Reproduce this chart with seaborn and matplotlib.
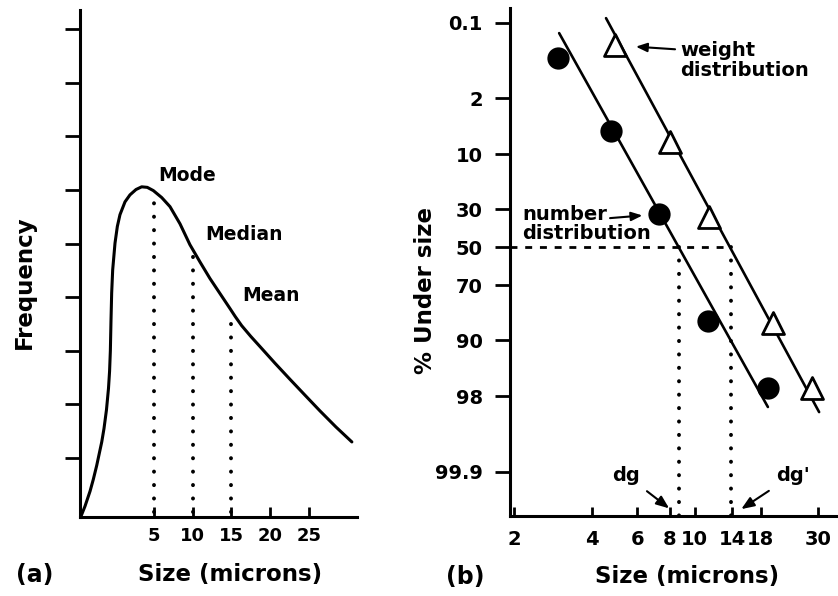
import numpy as np
import matplotlib
matplotlib.use("Agg")
import matplotlib.pyplot as plt
from matplotlib.ticker import NullLocator
import matplotlib.transforms as mtransforms
import seaborn as sns
from statistics import NormalDist

# (a) frequency curve (size in microns, frequency in arbitrary units)
curve_size = [-4.42, -3.87, -3.22, -2.80, -2.36, -1.71, -1.42, -1.10, -0.84, -0.70,
              -0.60, -0.52, -0.43, -0.30, 0.0, 0.30, 0.64, 1.29, 1.93, 2.71, 3.44,
              4.16, 4.94, 6.02, 7.09, 8.38, 9.66, 10.95, 12.24, 13.53, 14.82,
              15.5, 16.33, 17.5, 18.69, 20.62, 22.55, 24.48, 26.42, 28.48, 30.54]
curve_freq = [-0.1, 0.10, 0.38, 0.60, 0.86, 1.30, 1.55, 1.90, 2.30, 2.62,
              3.00, 3.55, 4.08, 4.51, 5.01, 5.32, 5.54, 5.78, 5.91, 6.01, 6.06,
              6.05, 5.99, 5.86, 5.69, 5.37, 4.98, 4.66, 4.35, 4.07, 3.79,
              3.64, 3.47, 3.27, 3.08, 2.77, 2.47, 2.175, 1.88, 1.58, 1.30]
stat_names = ["Mode", "Median", "Mean"]
stat_size = [5, 10, 15]
size_ticks_a = [5, 10, 15, 20, 25]
freq_ticks = [1, 2, 3, 4, 5, 6, 7, 8, 9]

# (b) log-probability plot
num_size = [2.96, 4.75, 7.28, 11.3, 19.2]
num_pct = [0.46, 5.5, 32.4, 84.5, 97.4]
wt_size = [4.92, 8.03, 11.4, 20.1, 28.4]
wt_pct = [0.27, 7.4, 33.9, 85.2, 97.4]
num_line_size = [2.99, 19.2]
num_line_pct = [0.159, 98.61]
wt_line_size = [4.54, 30.3]
wt_line_pct = [0.080, 98.84]
dg = 8.7
dg_prime = 13.8
size_ticks_b = [2, 4, 6, 8, 10, 14, 18, 30]
pct_ticks = [0.1, 2, 10, 30, 50, 70, 90, 98, 99.9]
pct_labels = ["0.1", "2", "10", "30", "50", "70", "90", "98", "99.9"]

sns.set_theme(style="ticks")
plt.rcParams["font.family"] = ["DejaVu Sans"]
plt.rcParams["font.weight"] = "bold"
plt.rcParams["text.color"] = "black"
plt.rcParams["axes.labelcolor"] = "black"
plt.rcParams["xtick.color"] = "black"
plt.rcParams["ytick.color"] = "black"
plt.rcParams["axes.edgecolor"] = "black"

nd = NormalDist()
_inv = np.vectorize(nd.inv_cdf, otypes=[float])
_cdf = np.vectorize(nd.cdf, otypes=[float])


def to_z(p):
    p = np.clip(np.asarray(p, dtype=float) / 100.0, 1e-9, 1 - 1e-9)
    return _inv(p)


def from_z(z):
    return _cdf(np.asarray(z, dtype=float)) * 100.0


fig = plt.figure(figsize=(8.38, 5.96), dpi=100)
ax1 = fig.add_axes([0.0955, 0.1326, 0.3305, 0.8507])
ax2 = fig.add_axes([0.6086, 0.1342, 0.3914, 0.8523])

# ---- panel (a)
sns.lineplot(x=curve_size, y=curve_freq, sort=False, estimator=None,
             color="black", lw=2.2, ax=ax1)
ax1.lines[0].set_solid_joinstyle("round")
tops = np.interp(stat_size, curve_size, curve_freq)
vl = ax1.vlines(stat_size, 0, tops, colors="black", lw=2.8,
                linestyles=[(0, (0.05, 3.4))])
vl.set_capstyle("round")
offsets = [(4, 15), (13, 15), (11, 15)]
for name, xs, yt, off in zip(stat_names, stat_size, tops, offsets):
    ax1.annotate(name, xy=(xs, yt), xytext=off, textcoords="offset pixels",
                 ha="left", va="center", fontsize=13.5, fontweight="bold")

ax1.set_xlim(-4.51, 31.2)
ax1.set_ylim(-0.1, 9.36)
ax1.set_xticks(size_ticks_a)
ax1.set_yticks(freq_ticks)
ax1.tick_params(axis="y", direction="out", length=10.5, width=2, labelleft=False)
ax1.tick_params(axis="x", direction="in", length=7, width=2, labelsize=13, pad=7)
ax1.set_xlabel("Size (microns)", fontsize=16.5, fontweight="bold", va="center")
ax1.xaxis.set_label_coords(0.5415, -0.114)
ax1.set_ylabel("Frequency", fontsize=16.5, fontweight="bold", va="center")
ax1.yaxis.set_label_coords(-0.202, 0.4635)

# ---- panel (b)
ax2.set_xscale("log")
ax2.set_yscale("function", functions=(to_z, from_z))
x_lo, x_hi = 1.93, 35.85
y_top, y_bot = 0.0492, 99.9893

sns.lineplot(x=num_line_size, y=num_line_pct, sort=False, estimator=None,
             color="black", lw=1.9, ax=ax2)
sns.lineplot(x=wt_line_size, y=wt_line_pct, sort=False, estimator=None,
             color="black", lw=1.9, ax=ax2)
sns.scatterplot(x=num_size, y=num_pct, marker="o", s=220, color="black",
                edgecolor="black", ax=ax2, zorder=3)
sns.scatterplot(x=wt_size, y=wt_pct, marker="^", s=250, color="white",
                edgecolor="black", linewidth=2, ax=ax2, zorder=3)

ax2.plot([x_lo, dg_prime], [50, 50], color="black", lw=2,
         ls=(0, (2.5, 2.8)))
vl2 = ax2.vlines([dg, dg_prime], 50, y_bot, colors="black", lw=2.8,
                 linestyles=[(0, (0.05, 3.4))])
vl2.set_capstyle("round")

arrow = dict(arrowstyle="-|>,head_length=0.55,head_width=0.22", color="black",
             lw=1.5, shrinkA=0)
ax2.annotate("weight\ndistribution", xy=(wt_size[0], wt_pct[0]), xytext=(65, -15),
             textcoords="offset pixels", ha="left", va="center", fontsize=14,
             fontweight="bold", linespacing=1.05)
ax2.annotate("", xy=(wt_size[0], wt_pct[0]), xytext=(60, -4),
             textcoords="offset pixels", arrowprops=dict(arrow, shrinkB=15))
ax2.annotate("number\ndistribution", xy=(num_size[2], num_pct[2]), xytext=(-137, -10),
             textcoords="offset pixels", ha="left", va="center", fontsize=14,
             fontweight="bold", linespacing=1.05)
ax2.annotate("", xy=(num_size[2], num_pct[2]), xytext=(-49, -4),
             textcoords="offset pixels", arrowprops=dict(arrow, shrinkB=12))

blend = mtransforms.blended_transform_factory(ax2.transData, ax2.transAxes)
ax2.annotate("dg", xy=(dg, 0.0), xycoords=blend, xytext=(-53, 41),
             textcoords="offset pixels", ha="center", va="center", fontsize=14,
             fontweight="bold",
             arrowprops=dict(arrow, shrinkA=4, shrinkB=9))
ax2.annotate("dg'", xy=(dg_prime, 0.0), xycoords=blend, xytext=(62, 41),
             textcoords="offset pixels", ha="center", va="center", fontsize=14,
             fontweight="bold",
             arrowprops=dict(arrow, shrinkA=4, shrinkB=9))

ax2.set_xlim(x_lo, x_hi)
ax2.set_ylim(y_bot, y_top)
ax2.set_xticks(size_ticks_b, [str(v) for v in size_ticks_b])
ax2.xaxis.set_minor_locator(NullLocator())
ax2.set_yticks(pct_ticks, pct_labels)
ax2.yaxis.set_minor_locator(NullLocator())
ax2.tick_params(axis="y", direction="out", length=10.5, width=2, labelsize=14, pad=9)
ax2.tick_params(axis="x", direction="in", length=6.5, width=2, labelsize=14, pad=10)
ax2.set_xlabel("Size (microns)", fontsize=16.5, fontweight="bold", va="center")
ax2.xaxis.set_label_coords(0.5396, -0.120)
ax2.set_ylabel("% Under size", fontsize=16.5, fontweight="bold", va="center")
ax2.yaxis.set_label_coords(-0.259, 0.443)

for ax in (ax1, ax2):
    for side in ("top", "right"):
        ax.spines[side].set_visible(False)
    for side in ("left", "bottom"):
        ax.spines[side].set_linewidth(2.2)
        ax.spines[side].set_color("black")

fig.text(35 / 838, 1 - 575 / 596, "(a)", ha="center", va="center",
         fontsize=17, fontweight="bold")
fig.text(465 / 838, 1 - 577 / 596, "(b)", ha="center", va="center",
         fontsize=17, fontweight="bold")

fig.savefig("out.png", dpi=100, facecolor="white")
